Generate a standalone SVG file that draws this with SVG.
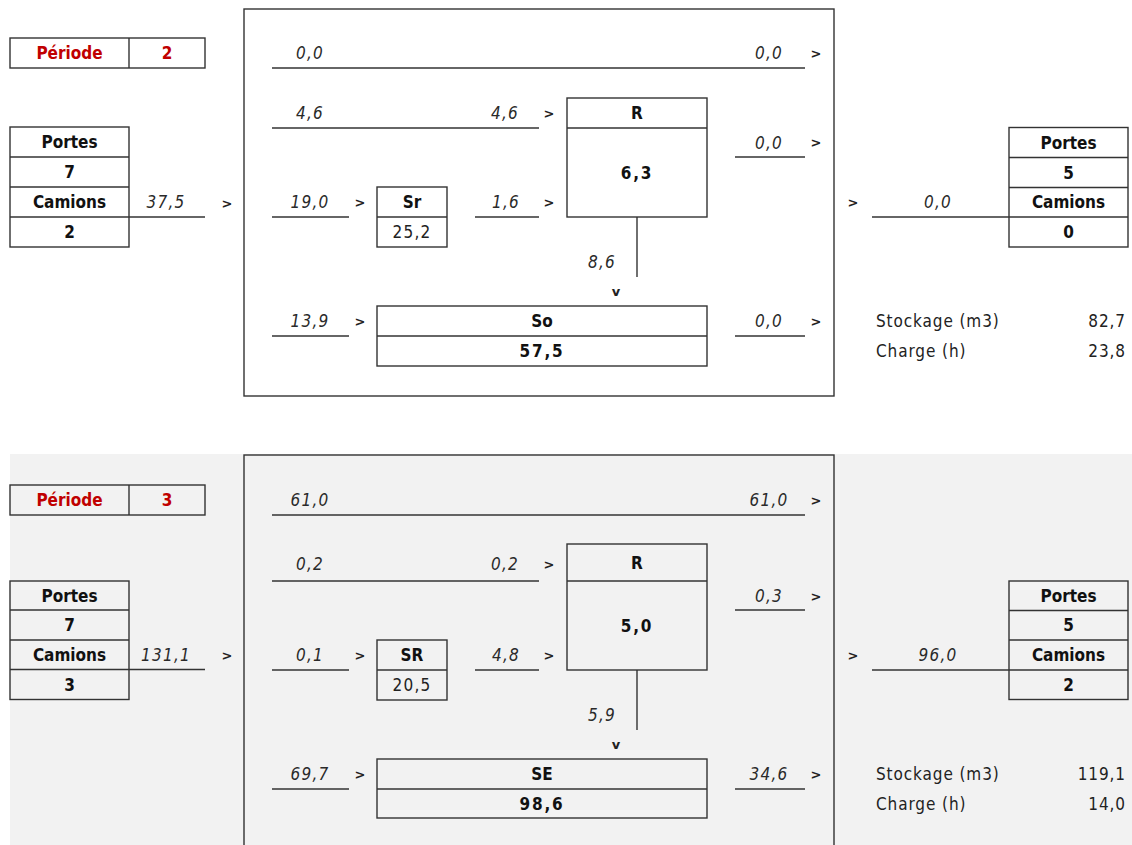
<svg xmlns="http://www.w3.org/2000/svg" width="1132" height="845" viewBox="0 0 1132 845">
<style>
.bx{fill:none;stroke:#333;stroke-width:1.4}
.ln{stroke:#333;stroke-width:1.4;fill:none}
text{font-family:"DejaVu Sans","Liberation Sans",sans-serif;font-stretch:condensed;dominant-baseline:central}
.b{font-weight:bold;font-size:17px;text-anchor:middle;fill:#111}
.bn{font-weight:bold;font-size:17px;text-anchor:middle;fill:#111;letter-spacing:1.8px}
.red{fill:#c00000}
.n{font-size:17px;fill:#222;letter-spacing:0.9px}
.nm{font-size:17px;fill:#222;letter-spacing:1.2px;text-anchor:middle}
.ne{font-size:17px;fill:#222;letter-spacing:0.9px;text-anchor:end}
.i{font-style:italic;font-size:17px;fill:#2a2a2a;letter-spacing:1.2px;text-anchor:middle}
.ie{font-style:italic;font-size:17px;fill:#2a2a2a;letter-spacing:1.2px;text-anchor:end}
.ar{font-weight:bold;font-size:13px;fill:#222;text-anchor:middle;font-stretch:normal}
</style>
<rect x="10" y="454" width="1122" height="391" fill="#f2f2f2"/>

<!-- ===== Period 2 ===== -->
<g id="periode2">
<rect class="bx" x="10" y="38" width="195" height="30"/>
<line class="ln" x1="129" y1="38" x2="129" y2="68"/>
<text class="b red" x="69.5" y="53">Période</text>
<text class="b red" x="167" y="53">2</text>
</g>
<g id="entree2">
<rect class="bx" x="10" y="127" width="119" height="120"/>
<line class="ln" x1="10" y1="157" x2="129" y2="157"/>
<line class="ln" x1="10" y1="187" x2="129" y2="187"/>
<line class="ln" x1="10" y1="217" x2="129" y2="217"/>
<text class="b" x="69.5" y="142">Portes</text>
<text class="b" x="69.5" y="172">7</text>
<text class="b" x="69.5" y="202">Camions</text>
<text class="b" x="69.5" y="232">2</text>
</g>
<g id="cadre2"><rect class="bx" x="244" y="9" width="590" height="387"/></g>
<g id="R2">
<rect class="bx" x="567" y="98" width="140" height="119"/>
<line class="ln" x1="567" y1="128" x2="707" y2="128"/>
<text class="b" x="637" y="113">R</text>
<text class="bn" x="637" y="172.5">6,3</text>
</g>
<g id="Sr2">
<rect class="bx" x="377" y="187" width="70" height="60"/>
<line class="ln" x1="377" y1="217" x2="447" y2="217"/>
<text class="b" x="412" y="202">Sr</text>
<text class="nm" x="412" y="232">25,2</text>
</g>
<g id="So2">
<rect class="bx" x="377" y="306" width="330" height="60"/>
<line class="ln" x1="377" y1="336" x2="707" y2="336"/>
<text class="b" x="542" y="321">So</text>
<text class="bn" x="542" y="351">57,5</text>
</g>
<g id="sortie2">
<rect class="bx" x="1009" y="127.5" width="119" height="119.5"/>
<line class="ln" x1="1009" y1="157.5" x2="1128" y2="157.5"/>
<line class="ln" x1="1009" y1="187.5" x2="1128" y2="187.5"/>
<line class="ln" x1="1009" y1="217" x2="1128" y2="217"/>
<text class="b" x="1068.5" y="142.5">Portes</text>
<text class="b" x="1068.5" y="172.5">5</text>
<text class="b" x="1068.5" y="202">Camions</text>
<text class="b" x="1068.5" y="232">0</text>
</g>
<g id="stats2">
<text class="n" x="876" y="321">Stockage (m3)</text>
<text class="ne" x="1126" y="321">82,7</text>
<text class="n" x="876" y="351">Charge (h)</text>
<text class="ne" x="1126" y="351">23,8</text>
</g>
<g id="connecteurs2">
<line class="ln" x1="129" y1="217" x2="205" y2="217"/>
<text class="i" x="166" y="202">37,5</text>
<text class="ar" x="227" y="203">&gt;</text>
<line class="ln" x1="272" y1="68" x2="805" y2="68"/>
<text class="i" x="310" y="53">0,0</text>
<text class="i" x="769" y="53">0,0</text>
<text class="ar" x="816" y="53">&gt;</text>
<line class="ln" x1="272" y1="128" x2="539" y2="128"/>
<text class="i" x="310" y="113">4,6</text>
<text class="i" x="505" y="113">4,6</text>
<text class="ar" x="549" y="113">&gt;</text>
<line class="ln" x1="735" y1="157" x2="805" y2="157"/>
<text class="i" x="769" y="142.5">0,0</text>
<text class="ar" x="816" y="142.5">&gt;</text>
<line class="ln" x1="272" y1="217" x2="349" y2="217"/>
<text class="i" x="310" y="202">19,0</text>
<text class="ar" x="360" y="202">&gt;</text>
<line class="ln" x1="475" y1="217" x2="539" y2="217"/>
<text class="i" x="506" y="202">1,6</text>
<text class="ar" x="549" y="202">&gt;</text>
<line class="ln" x1="637" y1="217" x2="637" y2="277"/>
<text class="ie" x="616" y="262">8,6</text>
<text class="ar" x="616" y="291.5">v</text>
<line class="ln" x1="272" y1="336" x2="349" y2="336"/>
<text class="i" x="310" y="321">13,9</text>
<text class="ar" x="360" y="321">&gt;</text>
<line class="ln" x1="735" y1="336" x2="805" y2="336"/>
<text class="i" x="769" y="321">0,0</text>
<text class="ar" x="816" y="321">&gt;</text>
<text class="ar" x="853" y="202">&gt;</text>
<line class="ln" x1="872" y1="217" x2="1009" y2="217"/>
<text class="i" x="938" y="202">0,0</text>
</g>

<!-- ===== Period 3 ===== -->
<g id="periode3">
<rect class="bx" x="10" y="485" width="195" height="30"/>
<line class="ln" x1="129" y1="485" x2="129" y2="515"/>
<text class="b red" x="69.5" y="500">Période</text>
<text class="b red" x="167" y="500">3</text>
</g>
<g id="entree3">
<rect class="bx" x="10" y="581" width="119" height="118.5"/>
<line class="ln" x1="10" y1="610" x2="129" y2="610"/>
<line class="ln" x1="10" y1="640" x2="129" y2="640"/>
<line class="ln" x1="10" y1="669.5" x2="129" y2="669.5"/>
<text class="b" x="69.5" y="595.5">Portes</text>
<text class="b" x="69.5" y="625">7</text>
<text class="b" x="69.5" y="655">Camions</text>
<text class="b" x="69.5" y="684.5">3</text>
</g>
<g id="cadre3"><rect class="bx" x="244" y="455" width="590" height="410"/></g>
<g id="R3">
<rect class="bx" x="567" y="544" width="140" height="126"/>
<line class="ln" x1="567" y1="581" x2="707" y2="581"/>
<text class="b" x="637" y="563">R</text>
<text class="bn" x="637" y="625.5">5,0</text>
</g>
<g id="SR3">
<rect class="bx" x="377" y="640" width="70" height="60"/>
<line class="ln" x1="377" y1="670" x2="447" y2="670"/>
<text class="b" x="412" y="655">SR</text>
<text class="nm" x="412" y="685">20,5</text>
</g>
<g id="SE3">
<rect class="bx" x="377" y="759" width="330" height="59"/>
<line class="ln" x1="377" y1="789" x2="707" y2="789"/>
<text class="b" x="542" y="774">SE</text>
<text class="bn" x="542" y="803.5">98,6</text>
</g>
<g id="sortie3">
<rect class="bx" x="1009" y="581" width="119" height="118.5"/>
<line class="ln" x1="1009" y1="610.5" x2="1128" y2="610.5"/>
<line class="ln" x1="1009" y1="640" x2="1128" y2="640"/>
<line class="ln" x1="1009" y1="670" x2="1128" y2="670"/>
<text class="b" x="1068.5" y="595.5">Portes</text>
<text class="b" x="1068.5" y="625">5</text>
<text class="b" x="1068.5" y="655">Camions</text>
<text class="b" x="1068.5" y="684.5">2</text>
</g>
<g id="stats3">
<text class="n" x="876" y="774">Stockage (m3)</text>
<text class="ne" x="1126" y="774">119,1</text>
<text class="n" x="876" y="804">Charge (h)</text>
<text class="ne" x="1126" y="804">14,0</text>
</g>
<g id="connecteurs3">
<line class="ln" x1="129" y1="669.5" x2="205" y2="669.5"/>
<text class="i" x="166" y="655">131,1</text>
<text class="ar" x="227" y="655">&gt;</text>
<line class="ln" x1="272" y1="515" x2="805" y2="515"/>
<text class="i" x="310" y="500">61,0</text>
<text class="i" x="769" y="500">61,0</text>
<text class="ar" x="816" y="500">&gt;</text>
<line class="ln" x1="272" y1="581" x2="539" y2="581"/>
<text class="i" x="310" y="564">0,2</text>
<text class="i" x="505" y="564">0,2</text>
<text class="ar" x="549" y="564">&gt;</text>
<line class="ln" x1="735" y1="610" x2="805" y2="610"/>
<text class="i" x="769" y="595.5">0,3</text>
<text class="ar" x="816" y="596">&gt;</text>
<line class="ln" x1="272" y1="670" x2="349" y2="670"/>
<text class="i" x="310" y="655">0,1</text>
<text class="ar" x="360" y="655">&gt;</text>
<line class="ln" x1="475" y1="670" x2="539" y2="670"/>
<text class="i" x="506" y="655">4,8</text>
<text class="ar" x="549" y="655">&gt;</text>
<line class="ln" x1="637" y1="670" x2="637" y2="730"/>
<text class="ie" x="616" y="715">5,9</text>
<text class="ar" x="616" y="744">v</text>
<line class="ln" x1="272" y1="789" x2="349" y2="789"/>
<text class="i" x="310" y="774">69,7</text>
<text class="ar" x="360" y="774">&gt;</text>
<line class="ln" x1="735" y1="789" x2="805" y2="789"/>
<text class="i" x="769" y="774">34,6</text>
<text class="ar" x="816" y="774">&gt;</text>
<text class="ar" x="853" y="655">&gt;</text>
<line class="ln" x1="872" y1="670" x2="1009" y2="670"/>
<text class="i" x="938" y="655">96,0</text>
</g>
</svg>
